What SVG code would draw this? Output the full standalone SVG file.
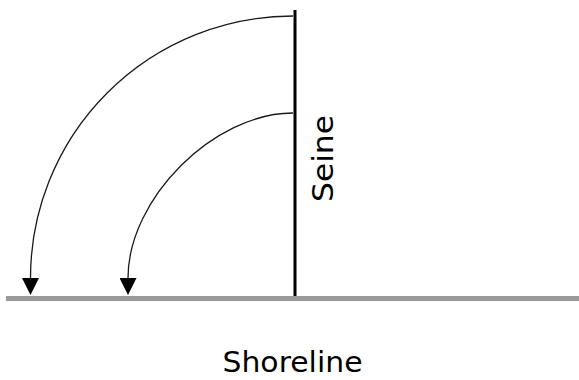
<svg xmlns="http://www.w3.org/2000/svg" width="579" height="380" viewBox="0 0 579 380">
  <style>
    .arc { fill: none; stroke: #1a1a1a; stroke-width: 1.3; marker-end: url(#arrow); }
    .lbl { font-family: "DejaVu Sans", "Liberation Sans", sans-serif; font-size: 29px; fill: #000; text-anchor: middle; }
  </style>
  <defs>
    <marker id="arrow" markerUnits="userSpaceOnUse" markerWidth="17" markerHeight="17" refX="0" refY="8.5" orient="auto" viewBox="0 0 17 17">
      <path d="M0,0 L17,8.5 L0,17 Z" fill="#000"/>
    </marker>
  </defs>
  <rect width="579" height="380" fill="#fff"/>
  <g id="seine">
    <line x1="295" y1="10" x2="295" y2="298" stroke="#000" stroke-width="3"/>
    <text class="lbl" transform="translate(333,158.5) rotate(-90)" textLength="87" lengthAdjust="spacingAndGlyphs">Seine</text>
  </g>
  <g id="shoreline">
    <line x1="6" y1="298.5" x2="579" y2="298.5" stroke="#999" stroke-width="5"/>
    <text class="lbl" x="292.5" y="372" textLength="140" lengthAdjust="spacingAndGlyphs">Shoreline</text>
  </g>
  <g id="connectors">
    <path class="arc" d="M293,16 A262.5,262 0 0 0 30.5,278"/>
    <path class="arc" d="M293,113 C213.8,113 128,198.8 128,278"/>
  </g>
</svg>
